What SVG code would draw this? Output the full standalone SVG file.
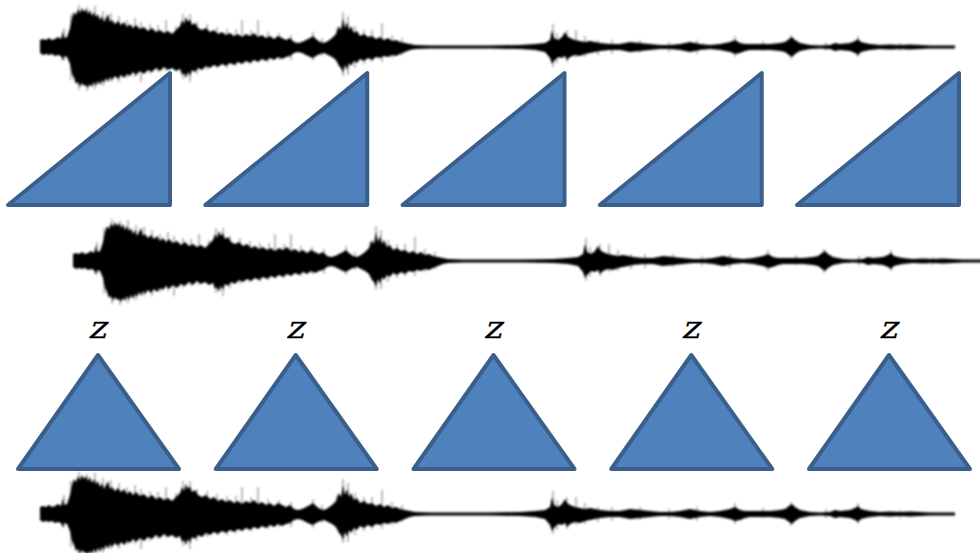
<svg xmlns="http://www.w3.org/2000/svg" xmlns:xlink="http://www.w3.org/1999/xlink" width="980" height="553" viewBox="0 0 980 553">
<style>
.tri{fill:#4F81BD;stroke:#3A5F8B;stroke-width:4;stroke-linejoin:round}
.lbl{font-family:"DejaVu Serif","Liberation Serif",serif;font-size:31px;fill:#000;stroke:#000;stroke-width:0.3;text-anchor:middle}
.body{fill:#000}
.spk{fill:none;stroke:#000;stroke-width:1.2;opacity:0.45}
.wave{filter:url(#fuzz)}
</style>
<defs>
<filter id="fuzz" x="-2%" y="-30%" width="104%" height="160%"><feGaussianBlur stdDeviation="0.8"/></filter>
<g id="wf">
<path class="body" d="M40,40 L43,39 46,40 49,38 52,40 55,39 58,37 61,39 63,31 64,38 67,37 70,28 72,18 74,12 76,15 78,9 80,13 82,8 84,12 86,9 88,14 90,10 92,16 94,12 96,17 98,14 100,20 102,16 104,22 106,18 108,14 110,22 112,20 115,24 118,21 121,25 124,22 127,27 130,24 133,28 136,25 140,29 144,27 148,31 152,28 156,32 160,30 164,33 168,31 172,34 176,30 180,26 182,20 184,24 186,17 188,22 190,19 192,25 195,23 198,28 202,30 206,28 210,32 214,30 218,34 222,32 226,35 230,33 234,36 238,34 242,37 246,34 250,36 254,33 258,37 262,35 266,38 270,36 274,39 278,36 282,38 286,40 290,38 294,42 298,43 302,42 306,40 310,38 313,36 316,39 320,42 324,43 328,41 332,38 336,34 339,26 341,30 343,18 345,28 347,22 349,30 351,26 354,33 357,31 360,36 364,34 368,37 372,36 376,39 380,37 384,40 388,38 392,41 396,40 400,42 405,43 410,44 415,45 430,45.5 460,45.5 490,45.5 520,45 535,44 545,43 550,40 552,30 554,38 558,40 562,37 565,32 567,36 570,38 575,40 580,41 585,42 590,41 600,43 610,44 620,44 630,42 640,43 650,44 660,45 670,45 680,44 690,42 695,43 700,44 710,45 720,44 730,42 735,40 740,43 745,44 750,44 760,44 770,44 780,43 785,42 789,39 792,37 795,40 800,43 810,45 820,45.5 830,45 835,43 840,44 850,43 855,41 858,39 861,42 865,43 870,44 880,45 890,44.5 900,45 910,44.5 920,45 930,45.5 940,45.5 955,45.5 L955,48.5 940,48.5 930,48.5 920,49 910,49.5 900,49 890,49.5 880,49 870,50 865,51 861,52 858,55 855,53 850,51 840,50 835,51 830,49 820,48.5 810,49 800,51 795,54 792,57 789,55 785,52 780,51 770,50 760,50 750,50 745,51 740,53 735,54 730,52 720,50 710,49 700,50 695,51 690,52 680,50 670,49 660,49 650,50 640,51 630,52 620,50 610,50 600,51 590,53 585,54 580,56 575,55 570,57 567,60 565,56 562,58 558,57 554,61 552,64 550,58 545,52 535,50 520,49 490,48.5 460,48.5 430,48.5 415,49 410,50 405,52 400,54 396,56 392,55 388,57 384,56 380,58 376,57 372,60 368,58 364,61 360,59 357,63 354,61 351,66 349,63 347,70 345,65 343,73 341,68 339,66 336,60 332,57 328,55 324,53 320,54 316,56 313,58 310,57 306,55 302,53 298,52 294,53 290,56 286,57 282,59 278,57 274,60 270,58 266,61 262,59 258,62 254,60 250,63 246,61 242,64 238,62 234,65 230,63 226,66 222,64 218,67 214,65 210,68 206,66 202,70 198,68 195,72 192,70 190,76 188,72 186,78 184,73 182,75 180,69 176,71 172,68 168,70 164,67 160,71 156,68 152,72 148,70 144,74 140,71 136,75 133,72 130,76 127,74 124,78 121,75 118,79 115,76 112,80 110,77 108,82 106,78 104,83 102,80 100,85 98,81 96,86 94,82 92,87 90,84 88,88 86,85 84,86 82,83 80,87 78,82 76,84 74,78 72,74 70,64 67,57 64,56 63,61 61,56 58,55 55,56 52,54 49,55 46,54 43,55 40,53 Z"/>
<path class="spk" d="M64,28V60 M71,14V80 M79,5V90 M87,7V91 M95,6V89 M103,11V86 M111,13V82 M119,16V82 M127,20V78 M135,18V77 M141,22V82 M150,24V74 M158,25V72 M166,20V71 M176,26V70 M183,14V79 M190,14V82 M197,22V74 M207,24V70 M217,27V68 M227,29V68 M236,29V66 M242,20V64 M251,30V64 M258,20V62 M268,32V62 M279,33V60 M291,35V60 M313,32V61 M322,38V56 M337,28V62 M343,12V76 M348,16V75 M355,26V68 M364,30V64 M372,30V62 M382,23V62 M392,35V58 M402,38V55 M553,24V67 M557,33V63 M567,30V62 M576,30V58 M585,36V57 M598,40V55 M612,40V54 M640,40V53 M669,42V52 M697,40V54 M735,36V57 M763,41V51 M791,35V59 M826,42V51 M858,36V57 M900,43V51"/>
</g>
</defs>
<g id="waveform-top" class="wave"><use xlink:href="#wf" href="#wf"/></g>
<g id="waveform-middle" class="wave"><use xlink:href="#wf" href="#wf" transform="translate(33,214)"/></g>
<g id="waveform-bottom" class="wave"><use xlink:href="#wf" href="#wf" transform="translate(0,467)"/></g>
<g id="ramp-1"><path class="tri" d="M8,205 L170,73 L170,205 Z"/></g>
<g id="ramp-2"><path class="tri" d="M205.25,205 L367.25,73 L367.25,205 Z"/></g>
<g id="ramp-3"><path class="tri" d="M402.5,205 L564.5,73 L564.5,205 Z"/></g>
<g id="ramp-4"><path class="tri" d="M599.75,205 L761.75,73 L761.75,205 Z"/></g>
<g id="ramp-5"><path class="tri" d="M797,205 L959,73 L959,205 Z"/></g>
<g id="window-1"><text class="lbl" transform="translate(97,338) scale(1.1,1) skewX(-14)">z</text><path class="tri" d="M18,469 L98,355 L179,469 Z"/></g>
<g id="window-2"><text class="lbl" transform="translate(294.75,338) scale(1.1,1) skewX(-14)">z</text><path class="tri" d="M215.75,469 L295.75,355 L376.75,469 Z"/></g>
<g id="window-3"><text class="lbl" transform="translate(492.5,338) scale(1.1,1) skewX(-14)">z</text><path class="tri" d="M413.5,469 L493.5,355 L574.5,469 Z"/></g>
<g id="window-4"><text class="lbl" transform="translate(690.25,338) scale(1.1,1) skewX(-14)">z</text><path class="tri" d="M611.25,469 L691.25,355 L772.25,469 Z"/></g>
<g id="window-5"><text class="lbl" transform="translate(888,338) scale(1.1,1) skewX(-14)">z</text><path class="tri" d="M809,469 L889,355 L970,469 Z"/></g>
</svg>
